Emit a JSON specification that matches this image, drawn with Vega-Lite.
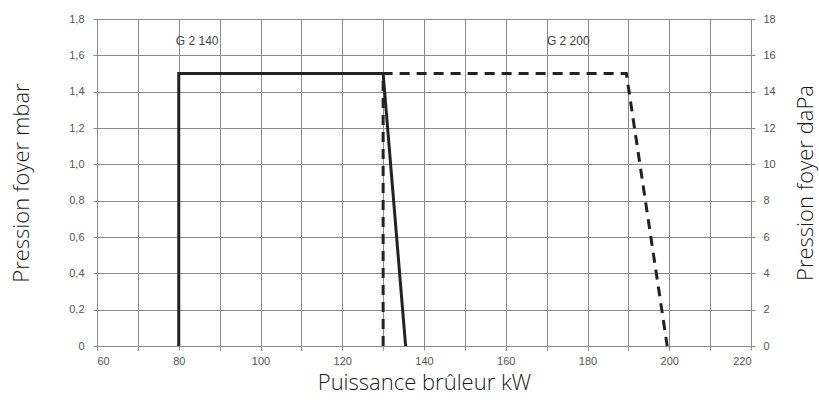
{
  "$schema": "https://vega.github.io/schema/vega-lite/v6.json",
  "width": 654,
  "height": 327,
  "autosize": {"type": "none"},
  "padding": {"left": 97, "top": 19, "right": 68, "bottom": 54},
  "background": "white",
  "datasets": {
    "courbes": [
      {"serie": "G 2 140", "i": 1, "kw": 80, "mbar": 0, "dapa": 0},
      {"serie": "G 2 140", "i": 2, "kw": 80, "mbar": 1.5, "dapa": 15},
      {"serie": "G 2 140", "i": 3, "kw": 130, "mbar": 1.5, "dapa": 15},
      {"serie": "G 2 140", "i": 4, "kw": 135.5, "mbar": 0, "dapa": 0},
      {"serie": "G 2 200", "i": 1, "kw": 130, "mbar": 0, "dapa": 0},
      {"serie": "G 2 200", "i": 2, "kw": 130, "mbar": 1.5, "dapa": 15},
      {"serie": "G 2 200", "i": 3, "kw": 189.5, "mbar": 1.5, "dapa": 15},
      {"serie": "G 2 200", "i": 4, "kw": 199.5, "mbar": 0, "dapa": 0}
    ],
    "etiquettes": [
      {"texte": "G 2 140", "kw": 84.5, "mbar": 1.68},
      {"texte": "G 2 200", "kw": 175.3, "mbar": 1.68}
    ]
  },
  "config": {
    "view": {"stroke": "#8a8a8a", "strokeWidth": 1},
    "axis": {
      "gridColor": "#8a8a8a",
      "gridOpacity": 1,
      "gridWidth": 1,
      "domainColor": "#8a8a8a",
      "tickColor": "#8a8a8a",
      "tickSize": 4,
      "labelFont": "Liberation Sans",
      "labelFontSize": 11,
      "labelColor": "#555555",
      "titleFont": "Open Sans",
      "titleFontSize": 22,
      "titleFontWeight": 300,
      "titleColor": "#1a1a1a"
    }
  },
  "layer": [
    {
      "data": {"name": "courbes"},
      "mark": {"type": "line", "strokeWidth": 3, "color": "#222222"},
      "encoding": {
        "x": {
          "field": "kw",
          "type": "quantitative",
          "scale": {"domain": [60, 220], "nice": false},
          "axis": {
            "values": [60, 70, 80, 90, 100, 110, 120, 130, 140, 150, 160, 170, 180, 190, 200, 210, 220],
            "labelExpr": "datum.value % 20 == 0 ? datum.label : ''",
            "labelPadding": 5,
            "title": "Puissance brûleur kW",
            "titlePadding": 6
          }
        },
        "y": {
          "field": "mbar",
          "type": "quantitative",
          "scale": {"domain": [0, 1.8], "nice": false},
          "axis": {
            "values": [0, 0.2, 0.4, 0.6, 0.8, 1.0, 1.2, 1.4, 1.6, 1.8],
            "labelExpr": "datum.value == 0 ? '0' : replace(format(datum.value, '.1f'), '.', ',')",
            "labelPadding": 9,
            "title": "Pression foyer mbar",
            "titleX": -76,
            "titleBaseline": "middle"
          }
        },
        "detail": {"field": "serie"},
        "strokeDash": {
          "field": "serie",
          "type": "nominal",
          "scale": {"domain": ["G 2 140", "G 2 200"], "range": [[1, 0], [10, 7]]},
          "legend": null
        },
        "order": {"field": "i", "type": "quantitative"}
      }
    },
    {
      "data": {"name": "etiquettes"},
      "mark": {"type": "text", "font": "Liberation Sans", "fontSize": 12, "color": "#444444"},
      "encoding": {
        "x": {"field": "kw", "type": "quantitative"},
        "y": {
          "field": "mbar",
          "type": "quantitative",
          "scale": {"domain": [0, 1.8], "nice": false},
          "axis": null
        },
        "text": {"field": "texte"}
      }
    },
    {
      "data": {"name": "courbes"},
      "mark": {"type": "point", "opacity": 0},
      "encoding": {
        "x": {"field": "kw", "type": "quantitative"},
        "y": {
          "field": "dapa",
          "type": "quantitative",
          "scale": {"domain": [0, 18], "nice": false},
          "axis": {
            "orient": "right",
            "values": [0, 2, 4, 6, 8, 10, 12, 14, 16, 18],
            "grid": false,
            "labelPadding": 8,
            "title": "Pression foyer daPa",
            "titleAngle": 270,
            "titleX": 54,
            "titleBaseline": "middle"
          }
        }
      }
    }
  ],
  "resolve": {"scale": {"y": "independent"}}
}
